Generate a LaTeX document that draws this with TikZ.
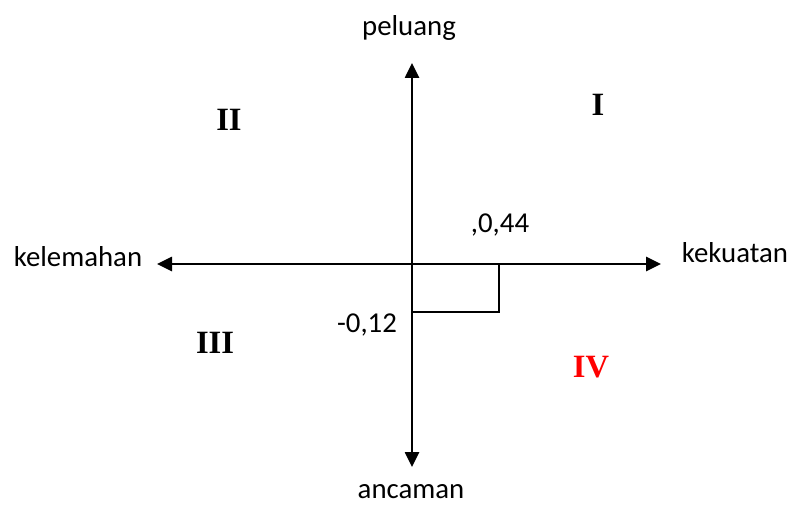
\documentclass[tikz,border=0pt]{standalone}
\usepackage{fontspec}
\setmainfont{Carlito}
\newfontfamily\romanfont{Liberation Serif}
\usetikzlibrary{arrows.meta}
\begin{document}
\begin{tikzpicture}[x=1pt,y=-1pt,
  axis/.style={line width=2.6pt,-{Triangle[length=15pt,width=14pt]}},
  lbl/.style={font=\fontsize{28.8}{32}\selectfont,inner sep=0pt,anchor=base},
  quad/.style={font=\romanfont\bfseries\fontsize{32.5}{36}\selectfont,inner sep=0pt},
  box/.style={line width=1.6pt}]
\useasboundingbox (0,0) rectangle (794,505);
\coordinate (O) at (412,264);
\coordinate (top) at (412,63);
\coordinate (bot) at (412,467);
\coordinate (lft) at (157,264);
\coordinate (rgt) at (661,264);
\coordinate (bx) at (499,264);
\coordinate (by) at (412,312);
\coordinate (bc) at (499,312);
\draw[axis] (O) -- (top);
\draw[axis] (O) -- (bot);
\draw[axis] (O) -- (lft);
\draw[axis] (O) -- (rgt);
\draw[box] (bx) -- (bc) -- (by);
\node[lbl] (peluang) at (409,36) {peluang};
\node[lbl] (ancaman) at (411,498) {ancaman};
\node[lbl] (kelemahan) at (78,266) {kelemahan};
\node[lbl] (kekuatan) at (735,262) {kekuatan};
\node[lbl] (v1) at (500,232) {,0,44};
\node[lbl] (v2) at (367,332) {-0,12};
\node[quad] (q1) at (598,105) {I};
\node[quad] (q2) at (229,120) {II};
\node[quad] (q3) at (215,343) {III};
\node[quad,text=red] (q4) at (591,367) {IV};
\end{tikzpicture}
\end{document}
